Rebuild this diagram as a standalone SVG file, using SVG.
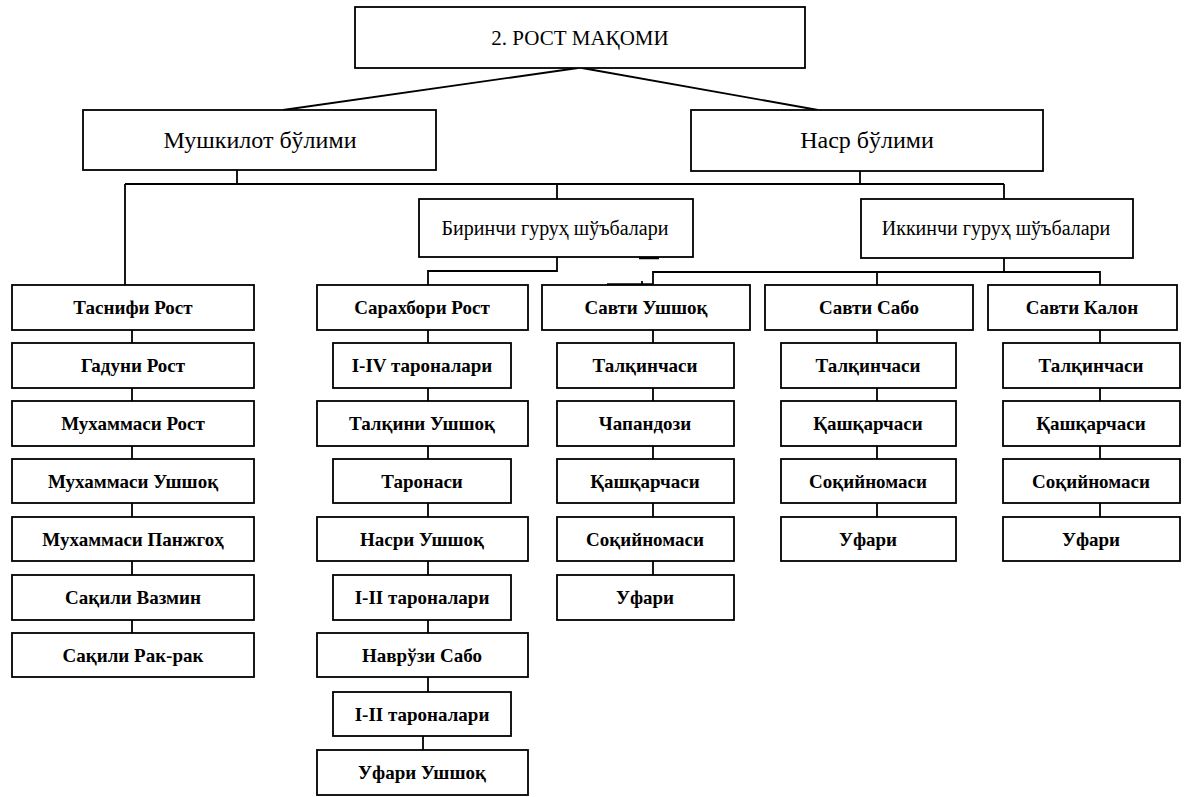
<svg xmlns="http://www.w3.org/2000/svg" width="1196" height="797" viewBox="0 0 1196 797">
  <style>
    .box { fill: #fff; stroke: #000; stroke-width: 1.8; }
    .hdr { font-family: "Liberation Serif", "Times New Roman", serif; fill: #000; text-anchor: middle; dominant-baseline: central; }
    .item { font-family: "Liberation Serif", "Times New Roman", serif; font-size: 19px; font-weight: bold; fill: #000; text-anchor: middle; dominant-baseline: central; }
    .link { fill: none; stroke: #000; stroke-width: 1.8; }
    .heavy { fill: none; stroke: #000; stroke-width: 3.5; }
  </style>
  <rect width="1196" height="797" fill="#fff"/>

  <!-- connectors -->
  <g id="connectors">
    <path class="link" d="M578,68 L283,110 M582,68 L818,110"/>
    <path class="link" d="M237,170 V184 M860,171 V184 M125,184 H1004 M125,184 V285 M557,184 V199 M1004,184 V199"/>
    <path class="link" d="M557,257 V271 H428 V285"/>
    <path class="link" d="M1004,258 V272 M653,285 V272 H1100 V285 M877,272 V285"/>
    <path class="heavy" d="M639,257.5 H659"/>
    <path class="heavy" d="M607,285 H652" stroke-width="3"/>
    <path class="link" d="M642,285 V281"/>
    <!-- column 1 -->
    <path class="link" d="M132,330 V343 M132,388 V401 M132,446 V459 M132,503 V517 M132,561 V575 M132,620 V633"/>
    <!-- column 2 -->
    <path class="link" d="M428,330 V343 M428,388 V401 M428,446 V459 M428,503 V517 M428,561 V575 M428,620 V633 M428,677 V692 M423,736 V750"/>
    <!-- column 3 -->
    <path class="link" d="M653,330 V343 M653,388 V401 M653,446 V459 M653,503 V517 M653,561 V575"/>
    <!-- column 4 -->
    <path class="link" d="M877,330 V343 M877,388 V401 M877,446 V459 M877,503 V517"/>
    <!-- column 5 -->
    <path class="link" d="M1100,330 V343 M1100,388 V401 M1100,446 V459 M1100,503 V517"/>
  </g>

  <!-- top level -->
  <g id="n-root"><rect class="box" x="355" y="7" width="450" height="61"/><text class="hdr" x="580" y="38" font-size="21">2. РОСТ МАҚОМИ</text></g>
  <g id="n-mushkilot"><rect class="box" x="83" y="110" width="353" height="60"/><text class="hdr" x="260" y="140" font-size="24">Мушкилот бўлими</text></g>
  <g id="n-nasr"><rect class="box" x="691" y="110" width="352" height="61"/><text class="hdr" x="867" y="140" font-size="24">Наср бўлими</text></g>
  <g id="n-group1"><rect class="box" x="419" y="199" width="274" height="58"/><text class="hdr" x="555" y="228" font-size="20">Биринчи гуруҳ шўъбалари</text></g>
  <g id="n-group2"><rect class="box" x="861" y="199" width="272" height="59"/><text class="hdr" x="996" y="228" font-size="20">Иккинчи гуруҳ шўъбалари</text></g>

  <!-- column 1 -->
  <g id="n-c1-0"><rect class="box" x="12" y="285" width="242" height="45"/><text class="item" x="133" y="307.5">Таснифи Рост</text></g>
  <g id="n-c1-1"><rect class="box" x="12" y="343" width="242" height="45"/><text class="item" x="133" y="365.5">Гадуни Рост</text></g>
  <g id="n-c1-2"><rect class="box" x="12" y="401" width="242" height="45"/><text class="item" x="133" y="423.5">Мухаммаси Рост</text></g>
  <g id="n-c1-3"><rect class="box" x="12" y="459" width="242" height="44"/><text class="item" x="133" y="481">Мухаммаси Ушшоқ</text></g>
  <g id="n-c1-4"><rect class="box" x="12" y="517" width="242" height="44"/><text class="item" x="133" y="539">Мухаммаси Панжгоҳ</text></g>
  <g id="n-c1-5"><rect class="box" x="12" y="575" width="242" height="45"/><text class="item" x="133" y="597.5">Сақили Вазмин</text></g>
  <g id="n-c1-6"><rect class="box" x="12" y="633" width="242" height="44"/><text class="item" x="133" y="655">Сақили Рак-рак</text></g>

  <!-- column 2 -->
  <g id="n-c2-0"><rect class="box" x="317" y="285" width="211" height="45"/><text class="item" x="422" y="307.5">Сарахбори Рост</text></g>
  <g id="n-c2-1"><rect class="box" x="333" y="343" width="178" height="45"/><text class="item" x="422" y="365.5">I-IV тароналари</text></g>
  <g id="n-c2-2"><rect class="box" x="317" y="401" width="211" height="45"/><text class="item" x="422" y="423.5">Талқини Ушшоқ</text></g>
  <g id="n-c2-3"><rect class="box" x="333" y="459" width="178" height="44"/><text class="item" x="422" y="481">Таронаси</text></g>
  <g id="n-c2-4"><rect class="box" x="317" y="517" width="211" height="44"/><text class="item" x="422" y="539">Насри Ушшоқ</text></g>
  <g id="n-c2-5"><rect class="box" x="333" y="575" width="178" height="45"/><text class="item" x="422" y="597.5">I-II тароналари</text></g>
  <g id="n-c2-6"><rect class="box" x="317" y="633" width="211" height="44"/><text class="item" x="422" y="655">Наврўзи Сабо</text></g>
  <g id="n-c2-7"><rect class="box" x="333" y="692" width="178" height="44"/><text class="item" x="422" y="714">I-II тароналари</text></g>
  <g id="n-c2-8"><rect class="box" x="317" y="750" width="211" height="45"/><text class="item" x="422" y="772.5">Уфари Ушшоқ</text></g>

  <!-- column 3 -->
  <g id="n-c3-0"><rect class="box" x="542" y="285" width="208" height="45"/><text class="item" x="646" y="307.5">Савти Ушшоқ</text></g>
  <g id="n-c3-1"><rect class="box" x="557" y="343" width="177" height="45"/><text class="item" x="645" y="365.5">Талқинчаси</text></g>
  <g id="n-c3-2"><rect class="box" x="557" y="401" width="177" height="45"/><text class="item" x="645" y="423.5">Чапандози</text></g>
  <g id="n-c3-3"><rect class="box" x="557" y="459" width="177" height="44"/><text class="item" x="645" y="481">Қашқарчаси</text></g>
  <g id="n-c3-4"><rect class="box" x="557" y="517" width="177" height="44"/><text class="item" x="645" y="539">Соқийномаси</text></g>
  <g id="n-c3-5"><rect class="box" x="557" y="575" width="177" height="45"/><text class="item" x="645" y="597.5">Уфари</text></g>

  <!-- column 4 -->
  <g id="n-c4-0"><rect class="box" x="765" y="285" width="208" height="45"/><text class="item" x="869" y="307.5">Савти Сабо</text></g>
  <g id="n-c4-1"><rect class="box" x="781" y="343" width="175" height="45"/><text class="item" x="868" y="365.5">Талқинчаси</text></g>
  <g id="n-c4-2"><rect class="box" x="781" y="401" width="175" height="45"/><text class="item" x="868" y="423.5">Қашқарчаси</text></g>
  <g id="n-c4-3"><rect class="box" x="781" y="459" width="175" height="44"/><text class="item" x="868" y="481">Соқийномаси</text></g>
  <g id="n-c4-4"><rect class="box" x="781" y="517" width="175" height="44"/><text class="item" x="868" y="539">Уфари</text></g>

  <!-- column 5 -->
  <g id="n-c5-0"><rect class="box" x="988" y="285" width="189" height="45"/><text class="item" x="1082" y="307.5">Савти Калон</text></g>
  <g id="n-c5-1"><rect class="box" x="1003" y="343" width="177" height="45"/><text class="item" x="1091" y="365.5">Талқинчаси</text></g>
  <g id="n-c5-2"><rect class="box" x="1003" y="401" width="177" height="45"/><text class="item" x="1091" y="423.5">Қашқарчаси</text></g>
  <g id="n-c5-3"><rect class="box" x="1003" y="459" width="177" height="44"/><text class="item" x="1091" y="481">Соқийномаси</text></g>
  <g id="n-c5-4"><rect class="box" x="1003" y="517" width="177" height="44"/><text class="item" x="1091" y="539">Уфари</text></g>
</svg>
